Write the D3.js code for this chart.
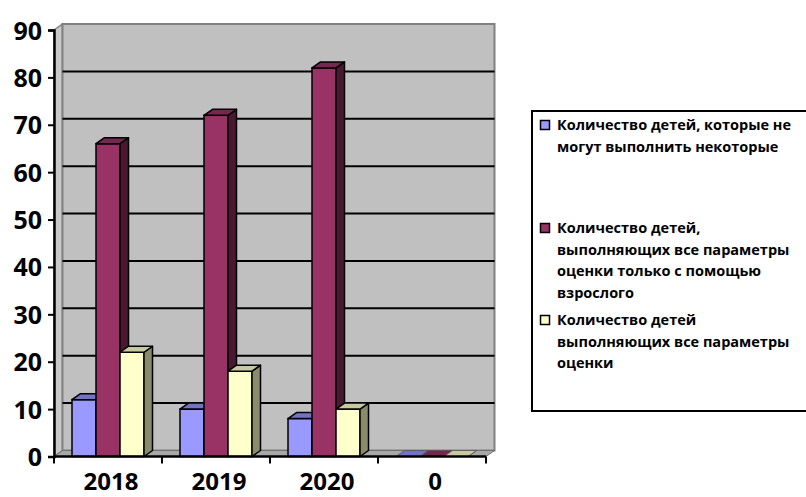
<!DOCTYPE html>
<html lang="ru">
<head>
    <meta charset="UTF-8">
    <title>Chart</title>
    <script src="https://cdnjs.cloudflare.com/ajax/libs/d3/7.8.5/d3.min.js"></script>
    <style>
        body { margin: 0; background: #fff; }
        svg text { font-family: "Open Sans", sans-serif; font-weight: bold; fill: #000; }
    </style>
</head>
<body>
    <div id="draw-here"></div>

    <script>
        var categories = ["2018", "2019", "2020", "0"];
        var series = ["notAll", "withAdult", "all"];
        var notAll = [12, 10, 8, 0];
        var withAdult = [66, 72, 82, 0];
        var all = [22, 18, 10, 0];
        var yTicks = [0, 10, 20, 30, 40, 50, 60, 70, 80, 90];
        var legendLabels = [
            ["Количество детей, которые не", "могут выполнить некоторые"],
            ["Количество детей,", "выполняющих все параметры", "оценки только с помощью", "взрослого"],
            ["Количество детей", "выполняющих все параметры", "оценки"]
        ];

        var values = { notAll: notAll, withAdult: withAdult, all: all };

        // front, top and side colours of the 3d columns
        var fill = { notAll: "#9999ff", withAdult: "#993366", all: "#ffffcc" };
        var topFill = { notAll: "#7373c6", withAdult: "#762750", all: "#c9c99f" };
        var sideFill = { notAll: "#4d4d80", withAdult: "#4a1830", all: "#8a8a6c" };

        var w = 806;
        var h = 497;

        // plot area (front plane) - "top" is taken by window.top, so prefix them
        var pLeft = 54, pRight = 486, pBottom = 456.5, pTop = 30;
        // depth of walls and columns
        var dx = 8.5, dy = -6;

        var svg = d3.select("#draw-here")
            .append("svg")
            .attr("width", w)
            .attr("height", h);

        var x0 = d3.scaleBand()
            .domain(categories)
            .range([pLeft, pRight])
            .paddingInner(1 / 3)
            .paddingOuter(1 / 6);

        var x1 = d3.scaleBand()
            .domain(series)
            .range([0, x0.bandwidth()]);

        var y = d3.scaleLinear()
            .domain([0, 90])
            .range([pBottom, pTop]);

        // side wall
        svg.append("polygon")
            .attr("points", [[pLeft, pTop], [pLeft + dx, pTop + dy], [pLeft + dx, pBottom + dy], [pLeft, pBottom]].join(" "))
            .attr("fill", "#c9c9c9")
            .attr("stroke", "#808080")
            .attr("stroke-width", 1.5);

        // back wall
        svg.append("rect")
            .attr("x", pLeft + dx)
            .attr("y", pTop + dy)
            .attr("width", pRight - pLeft)
            .attr("height", pBottom - pTop)
            .attr("fill", "#c0c0c0")
            .attr("stroke", "#808080")
            .attr("stroke-width", 2);

        // floor
        svg.append("polygon")
            .attr("points", [[pLeft, pBottom], [pRight, pBottom], [pRight + dx, pBottom + dy], [pLeft + dx, pBottom + dy]].join(" "))
            .attr("fill", "#a8a8a8")
            .attr("stroke", "#707070")
            .attr("stroke-width", 1);

        // gridlines on the back wall
        svg.append("g")
            .selectAll("line")
            .data(yTicks.filter(function (d) { return d > 0 && d < 90; }))
            .enter()
            .append("line")
            .attr("x1", pLeft + dx)
            .attr("x2", pRight + dx)
            .attr("y1", function (d) { return y(d) + dy; })
            .attr("y2", function (d) { return y(d) + dy; })
            .attr("stroke", "#000")
            .attr("stroke-width", 2);

        // columns
        var groups = svg.append("g")
            .selectAll("g")
            .data(categories)
            .enter()
            .append("g")
            .attr("transform", function (d) { return "translate(" + x0(d) + ",0)"; });

        groups.each(function (cat, ci) {
            var g = d3.select(this);
            series.forEach(function (s) {
                var v = values[s][ci];
                var bx = x1(s);
                var bw = x1.bandwidth();
                var by = y(v);
                var edge = v > 0 ? "#000" : "#555";
                var sw = v > 0 ? 1.5 : 0.8;

                g.append("rect")
                    .attr("x", bx)
                    .attr("y", by)
                    .attr("width", bw)
                    .attr("height", pBottom - by)
                    .attr("fill", fill[s])
                    .attr("stroke", edge)
                    .attr("stroke-width", sw);

                g.append("polygon")
                    .attr("points", [[bx + bw, by], [bx + bw + dx, by + dy], [bx + bw + dx, pBottom + dy], [bx + bw, pBottom]].join(" "))
                    .attr("fill", sideFill[s])
                    .attr("stroke", edge)
                    .attr("stroke-width", sw)
                    .attr("stroke-linejoin", "round");

                g.append("polygon")
                    .attr("points", [[bx, by], [bx + dx, by + dy], [bx + bw + dx, by + dy], [bx + bw, by]].join(" "))
                    .attr("fill", topFill[s])
                    .attr("stroke", edge)
                    .attr("stroke-width", sw)
                    .attr("stroke-linejoin", "round");
            });
        });

        // y axis
        var yAxis = svg.append("g")
            .attr("transform", "translate(" + pLeft + ",0)")
            .call(d3.axisLeft(y).tickValues(yTicks).tickSize(6).tickPadding(6));
        yAxis.select(".domain").attr("stroke", "#000").attr("stroke-width", 2.5);
        yAxis.selectAll(".tick line").attr("stroke", "#000").attr("stroke-width", 2);
        yAxis.selectAll(".tick text")
            .attr("font-size", "25px")
            .attr("font-family", null)
            .attr("fill", "#000")
            .attr("dy", "0.36em");

        // x axis with ticks on the category boundaries
        var step = x0.step();
        var bounds = categories.map(function (d) { return x0(d) - step * x0.paddingInner() / 2; });
        bounds.push(pRight);

        svg.append("line")
            .attr("x1", pLeft).attr("x2", pRight)
            .attr("y1", pBottom).attr("y2", pBottom)
            .attr("stroke", "#000")
            .attr("stroke-width", 2.5);

        svg.append("g")
            .selectAll("line")
            .data(bounds)
            .enter()
            .append("line")
            .attr("x1", function (d) { return d; })
            .attr("x2", function (d) { return d; })
            .attr("y1", pBottom)
            .attr("y2", pBottom + 7)
            .attr("stroke", "#000")
            .attr("stroke-width", 2);

        svg.append("g")
            .selectAll("text")
            .data(categories)
            .enter()
            .append("text")
            .text(function (d) { return d; })
            .attr("x", function (d) { return x0(d) + x0.bandwidth() / 2 + 3; })
            .attr("y", 490)
            .attr("text-anchor", "middle")
            .attr("font-size", "24px");

        // legend
        var lx = 532, ly = 111;
        svg.append("rect")
            .attr("x", lx)
            .attr("y", ly)
            .attr("width", 300)
            .attr("height", 300)
            .attr("fill", "#fff")
            .attr("stroke", "#000")
            .attr("stroke-width", 2);

        var itemTop = [125, 228, 320];
        var lineH = 21.7;

        series.forEach(function (s, i) {
            svg.append("rect")
                .attr("x", 540.5)
                .attr("y", itemTop[i] - 4.5)
                .attr("width", 9)
                .attr("height", 9)
                .attr("fill", fill[s])
                .attr("stroke", "#000")
                .attr("stroke-width", 1.5);

            var t = svg.append("text")
                .attr("x", 557)
                .attr("y", itemTop[i] + 5)
                .attr("font-size", "14.5px");
            legendLabels[i].forEach(function (line, k) {
                t.append("tspan")
                    .attr("x", 557)
                    .attr("dy", k === 0 ? 0 : lineH)
                    .text(line);
            });
        });
    </script>
</body>
</html>
